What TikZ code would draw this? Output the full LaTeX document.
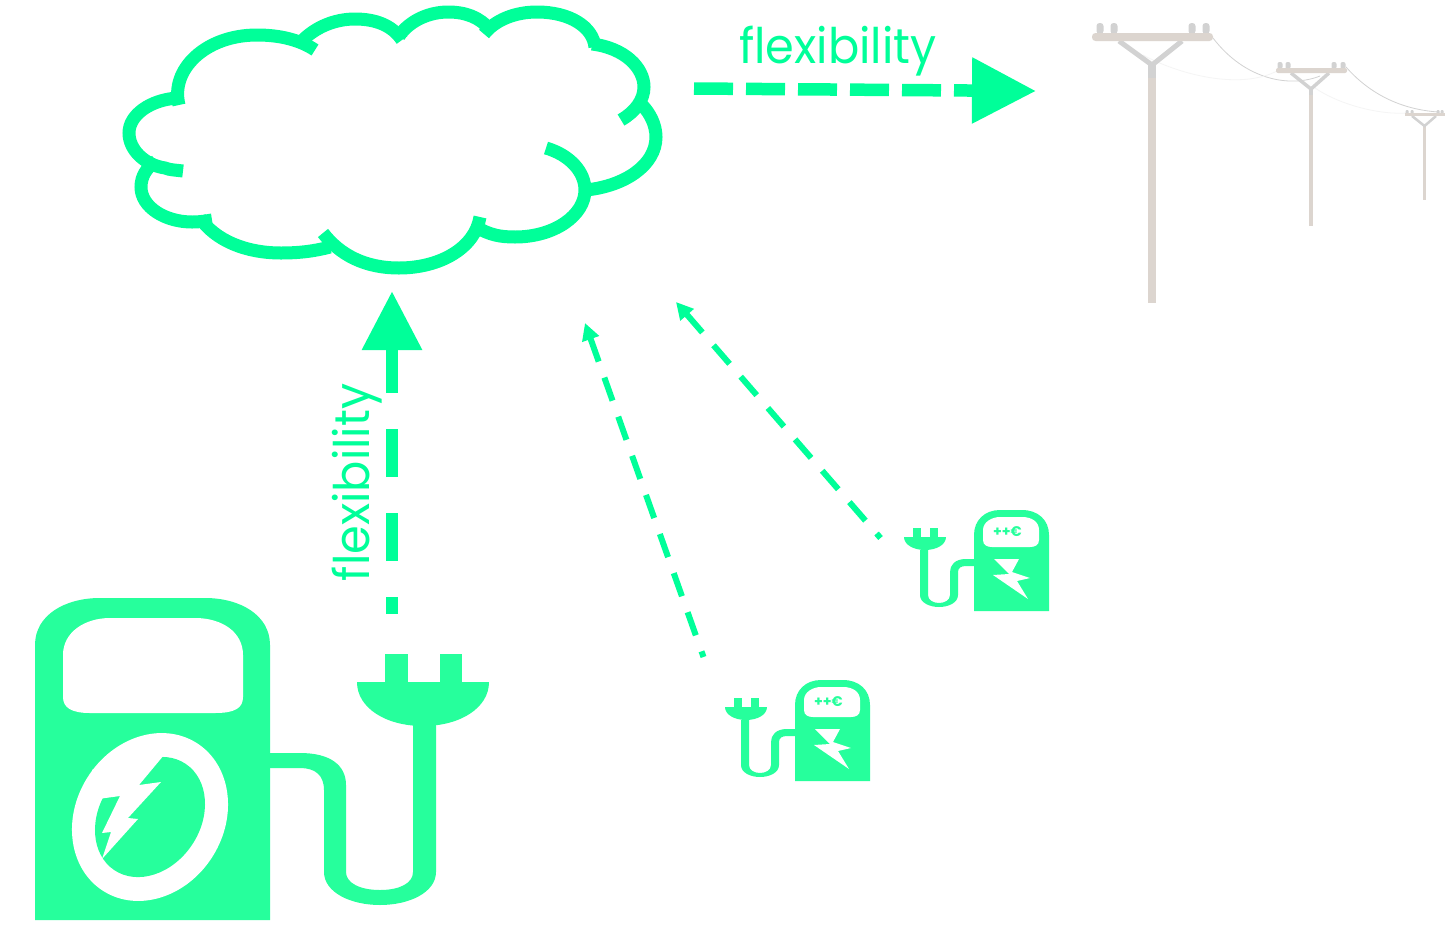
\documentclass[tikz,border=0pt]{standalone}
\usepackage{fontspec}
\setmainfont{Poppins}
\newfontfamily\pricefont{Poppins}[UprightFont=* Bold]
\usetikzlibrary{arrows.meta}
\definecolor{flow}{HTML}{00FF99}
\definecolor{icon}{HTML}{26FF9C}
\definecolor{wood}{HTML}{DCD5CF}
\definecolor{steel}{HTML}{D2D2D2}
\tikzset{
 cloudline/.style={draw=flow,line width=13pt,line cap=butt},
 bigflow/.style={draw=flow,line width=12.5pt},
 thinflow/.style={draw=flow,line width=6pt,dash pattern=on 24.5pt off 17pt,dash phase=18.5pt,-{Triangle[length=17pt,width=17pt,fill=flow]}},
 flowlabel/.style={text=flow,font=\fontsize{49}{49}\selectfont,xscale=.945,transform shape},
 iconfill/.style={fill=icon,draw=none},
 blank/.style={fill=white,draw=none},
 wire/.style={draw=steel,line width=.8pt},
 faintwire/.style={draw=black!4,line width=.8pt},
}
\newcommand{\smallstation}[3]{%
 \begin{scope}[shift={(#1,#2)}]
  \path[iconfill] (974,611) -- (974,535) .. controls (974,520) and (985,510) .. (1000,510) -- (1022,510) .. controls (1038,510) and (1049,520) .. (1049,535) -- (1049,611) -- cycle;
  \path[blank] (983,530) .. controls (983,522) and (992,517) .. (1000,517) -- (1022,517) .. controls (1032,517) and (1039,522) .. (1039,530) -- (1039,540) .. controls (1039,545) and (1035,547) .. (1030,547) -- (992,547) .. controls (987,547) and (983,545) .. (983,540) -- cycle;
  \node[text=icon,font=\pricefont\fontsize{14}{14}\selectfont,inner sep=0pt] (#3) at (1007.5,531.5) {++€};
  \path[blank] (994,559) -- (1019,559) -- (1012,572) -- (1030,578) -- (1017,581) -- (1028,599) -- (993,575) -- (1009,574) -- cycle;
  \path[iconfill] (974,559) -- (966,559) .. controls (955,559) and (950,565) .. (950,572) -- (950,595) .. controls (950,600) and (945,603) .. (939,603) .. controls (933,603) and (928,600) .. (928,595) -- (928,550) -- (920,550) -- (920,595) .. controls (920,603) and (930,607) .. (939,607) .. controls (948,607) and (958,603) .. (958,595) -- (958,572) .. controls (958,568) and (961,566) .. (966,566) -- (974,566) -- cycle;
  \path[iconfill] (904,537) -- (946,537) .. controls (946,545) and (936,550) .. (925,550) .. controls (914,550) and (904,545) .. (904,537) -- cycle;
  \path[iconfill] (912.5,528) rectangle (920.5,537);
  \path[iconfill] (930,528) rectangle (938,537);
 \end{scope}}
\begin{document}
\begin{tikzpicture}[x=1pt,y=-1pt]
\useasboundingbox (0,0) rectangle (1454,935);
\fill[white] (0,0) rectangle (1454,935);

% cloud
\draw[cloudline] (179,105) .. controls (170,70) and (205,35) .. (257,35) .. controls (280,35) and (300,40) .. (315,50);
\draw[cloudline] (301,42) .. controls (315,27) and (335,19) .. (355,19) .. controls (375,19) and (392,25) .. (402,40);
\draw[cloudline] (399,36) .. controls (410,20) and (430,12) .. (448,12) .. controls (465,12) and (480,17) .. (490,30);
\draw[cloudline] (484,34) .. controls (495,20) and (515,12) .. (537,12) .. controls (570,12) and (593,27) .. (595,47);
\draw[cloudline] (592,44) .. controls (625,48) and (644,68) .. (644,87) .. controls (644,100) and (635,112) .. (621,120);
\draw[cloudline] (642,105) .. controls (650,113) and (656,125) .. (656,137) .. controls (656,165) and (625,186) .. (586,190);
\draw[cloudline] (546,148) .. controls (570,155) and (585,172) .. (585,190) .. controls (585,215) and (555,237) .. (515,237) .. controls (500,237) and (490,235) .. (476,227);
\draw[cloudline] (480,217) .. controls (475,248) and (440,268) .. (399,268) .. controls (365,268) and (340,255) .. (323,233);
\draw[cloudline] (330,247) .. controls (315,251) and (300,253) .. (281,253) .. controls (245,253) and (215,240) .. (200,218);
\draw[cloudline] (212,220) .. controls (200,222) and (195,222) .. (192,222) .. controls (165,222) and (141,207) .. (141,187) .. controls (141,177) and (146,168) .. (156,161);
\draw[cloudline] (183,171) .. controls (175,170) and (170,170) .. (165,168) .. controls (145,165) and (129,150) .. (129,133) .. controls (129,115) and (150,100) .. (177,98);

% flows
\coordinate (cloudright) at (694,88.5);
\coordinate (gridin) at (1036,91);
\coordinate (stationtop) at (392,614);
\coordinate (cloudbottom) at (392,291);
\draw[bigflow,dash pattern=on 39pt off 13pt,-{Triangle[length=64pt,width=63pt,fill=flow]}] (cloudright) -- (gridin);
\draw[bigflow,dash pattern=on 17pt off 36pt on 48pt off 36pt on 48pt off 36pt on 48pt off 36pt,-{Triangle[length=59pt,width=57pt,fill=flow]}] (stationtop) -- (cloudbottom);
\coordinate (midstart) at (703.5,657);
\coordinate (midend) at (585,323);
\coordinate (rightstart) at (880.5,538);
\coordinate (rightend) at (676,302);
\draw[thinflow] (midstart) -- (midend);
\draw[thinflow] (rightstart) -- (rightend);
\node[flowlabel,inner sep=0pt] (labeltop) at (838,51) {flexibility};
\node[rotate=90,flowlabel,inner sep=0pt] (labelside) at (357,482.5) {flexibility};

% big station
\path[iconfill] (35,920) -- (35,645) .. controls (35,615) and (65,598) .. (100,598) -- (205,598) .. controls (240,598) and (270,615) .. (270,645) -- (270,920) -- cycle;
\path[blank] (63,655) .. controls (63,632) and (85,618) .. (110,618) -- (195,618) .. controls (222,618) and (243,632) .. (243,655) -- (243,697) .. controls (243,708) and (235,713) .. (215,713) -- (90,713) .. controls (72,713) and (63,708) .. (63,697) -- cycle;
\path[blank,rotate around={-32:(150,817)}] (150,817) ellipse [x radius=74,y radius=87.5];
\path[iconfill,rotate around={-34:(150,817)}] (150,817) ellipse [x radius=50.4,y radius=64];
\path[blank] (164,755) -- (139,785) -- (161,782) -- (128,818) -- (138,819) -- (102,859) -- (111,832) -- (102,833) -- (120,796) -- (98,799) -- (92,770) -- (130,748) -- cycle;
\path[iconfill] (270,753) -- (300,753) .. controls (330,753) and (346,765) .. (346,785) -- (346,872) .. controls (346,883) and (360,890) .. (380,890) .. controls (400,890) and (413,883) .. (413,872) -- (413,720) -- (436,720) -- (436,872) .. controls (436,892) and (410,905) .. (380,905) .. controls (350,905) and (324,892) .. (324,872) -- (324,790) .. controls (324,775) and (315,768) .. (300,768) -- (270,768) -- cycle;
\path[iconfill] (357,682) -- (489,682) .. controls (489,708) and (460,726) .. (423,726) .. controls (386,726) and (357,708) .. (357,682) -- cycle;
\path[iconfill] (385,654) rectangle (408,682);
\path[iconfill] (440,654) rectangle (462,682);

\smallstation{0}{0}{priceright}
\smallstation{-179}{170}{priceleft}

% poles
\begin{scope}[line cap=butt]
 \draw[wire] (1213,38) .. controls (1245,80) and (1290,88) .. (1320,76);
 \draw[faintwire] (1143,55) .. controls (1180,75) and (1240,90) .. (1277,71);
 \draw[wire] (1346,67) .. controls (1375,100) and (1410,110) .. (1438,112);
 \draw[faintwire] (1315,88) .. controls (1340,105) and (1380,115) .. (1407,113);
 % pole 1
 \foreach \x in {1100,1114,1192,1206} \fill[steel,rounded corners=3pt] (\x-3.5,23) rectangle (\x+3.5,34);
 \fill[wood] (1148,65) rectangle (1156,303);
 \draw[steel,line width=5pt] (1119,41) -- (1152,65) -- (1182,41);
 \fill[steel] (1148,65) rectangle (1156,78);
 \fill[wood,rounded corners=3.5pt] (1092,33) rectangle (1213,41);
 % pole 2
 \foreach \x in {1280,1288,1334,1343} \fill[steel,rounded corners=2pt] (\x-2.5,62) rectangle (\x+2.5,69);
 \fill[wood] (1308.5,88) rectangle (1313,226);
 \draw[steel,line width=3.5pt] (1291,73) -- (1311,89) -- (1329,73);
 \fill[steel] (1308.5,88) rectangle (1313,95);
 \fill[wood,rounded corners=2pt] (1276,68) rectangle (1347,73);
 % pole 3
 \foreach \x in {1407,1412,1438,1442} \fill[steel,rounded corners=1pt] (\x-1.5,110) rectangle (\x+1.5,114);
 \fill[wood] (1423,125) rectangle (1426,200);
 \draw[steel,line width=2.5pt] (1412,116) -- (1424.5,126) -- (1436,116);
 \fill[wood] (1405,113) rectangle (1445,116);
\end{scope}
\end{tikzpicture}
\end{document}
